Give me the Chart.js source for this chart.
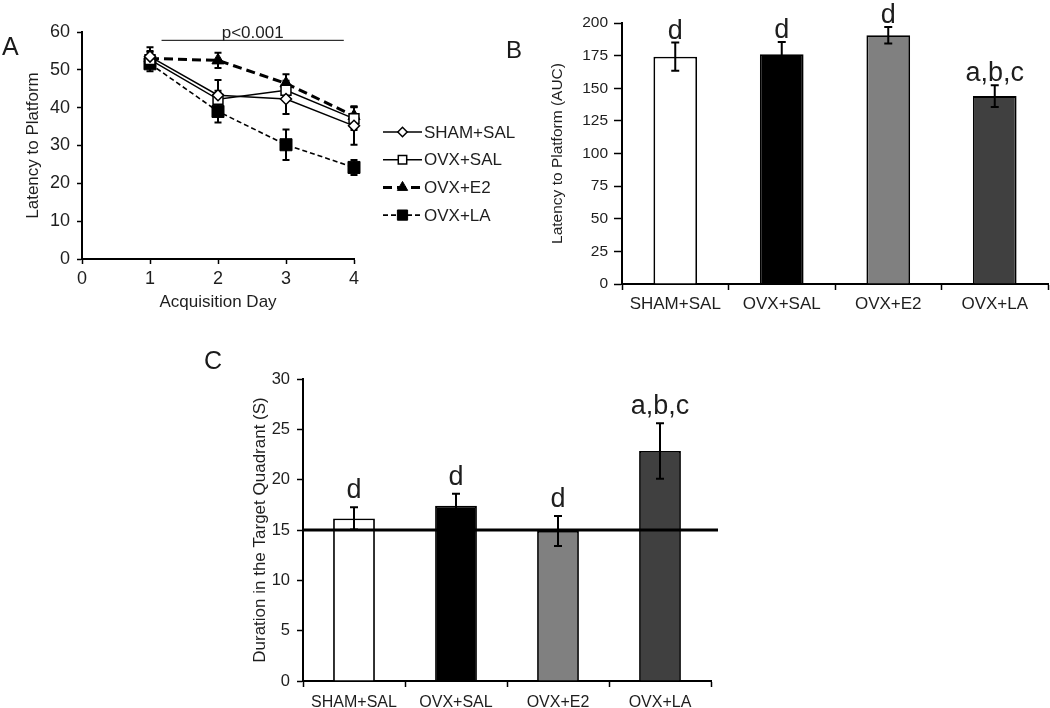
<!DOCTYPE html>
<html>
<head>
<meta charset="utf-8">
<script src="https://cdn.jsdelivr.net/npm/chart.js@4.4.0/dist/chart.umd.min.js"></script>
<style>
html,body{margin:0;padding:0;background:#fff;}
#wrap{position:relative;width:1050px;height:708px;overflow:hidden;font-family:"Liberation Sans",Arial,sans-serif;color:#1a1a1a;}
canvas{position:absolute;}
.lbl{position:absolute;font-size:25px;line-height:1;white-space:nowrap;}
</style>
</head>
<body>
<div id="wrap">
  <canvas id="cA" width="520" height="315" style="left:0px;top:0px"></canvas>
  <canvas id="cB" width="550" height="320" style="left:500px;top:0px"></canvas>
  <canvas id="cC" width="500" height="393" style="left:230px;top:315px"></canvas>
  <div class="lbl" style="left:2px;top:34px">A</div>
  <div class="lbl" style="left:506px;top:38px;font-size:24px">B</div>
  <div class="lbl" style="left:204px;top:348px">C</div>
</div>
<script>
// ---------------- DATA ----------------
const days = [1, 2, 3, 4];
const groups = ['SHAM+SAL', 'OVX+SAL', 'OVX+E2', 'OVX+LA'];

const shamSalLatency    = [53.5, 43.3, 42.3, 35.2];
const shamSalLatencyErr = [2.5, 4.0, 4.0, 5.0];
const ovxSalLatency     = [52.7, 42.2, 44.6, 37.1];
const ovxSalLatencyErr  = [2.0, 2.3, 2.5, 3.0];
const ovxE2Latency      = [53.0, 52.5, 46.4, 37.8];
const ovxE2LatencyErr   = [2.0, 2.0, 2.4, 2.6];
const ovxLaLatency      = [51.6, 39.0, 30.2, 24.2];
const ovxLaLatencyErr   = [2.0, 2.9, 4.0, 2.0];

const aucValues  = [174.2, 176.0, 190.6, 144.0];
const aucErr     = [10.8, 9.5, 6.4, 8.3];
const aucLetters = ['d', 'd', 'd', 'a,b,c'];

const durationValues  = [16.15, 17.4, 14.9, 22.85];
const durationErr     = [1.1, 1.2, 1.5, 2.75];
const durationLetters = ['d', 'd', 'd', 'a,b,c'];
const chanceLevel = 15;

const sigText = 'p<0.001';
const sigFromDay = 1.17, sigToDay = 3.85, sigLevel = 57.8;

// ---------------- HELPERS ----------------
const FONT = '"Liberation Sans", Arial, sans-serif';
const TXT = '#1e1e1e';
Chart.defaults.font.family = FONT;
Chart.defaults.color = TXT;

function drawMarker(ctx, style, x, y, r, fill, lw) {
  if (Chart.helpers && Chart.helpers.drawPoint) {
    ctx.save();
    ctx.fillStyle = fill; ctx.strokeStyle = '#000'; ctx.lineWidth = lw; ctx.setLineDash([]);
    Chart.helpers.drawPoint(ctx, {pointStyle: style, radius: r, rotation: 0, borderWidth: lw}, x, y);
    ctx.restore();
  }
}

const errorBars = {
  id: 'errorBars',
  draw(chart, opts) {
    const ctx = chart.ctx, ys = chart.scales.y, cap = opts.cap || 4;
    chart.data.datasets.forEach((ds, i) => {
      if (!ds.errors) return;
      const meta = chart.getDatasetMeta(i);
      meta.data.forEach((el, j) => {
        const raw = ds.data[j];
        const v = (typeof raw === 'object') ? raw.y : raw;
        const e = ds.errors[j];
        const x = el.x;
        const yt = ys.getPixelForValue(v + e), yb = ys.getPixelForValue(v - e);
        ctx.save();
        ctx.strokeStyle = '#000'; ctx.lineWidth = opts.lineWidth || 2; ctx.setLineDash([]);
        ctx.beginPath();
        ctx.moveTo(x, yt); ctx.lineTo(x, yb);
        ctx.moveTo(x - cap, yt); ctx.lineTo(x + cap, yt);
        ctx.moveTo(x - cap, yb); ctx.lineTo(x + cap, yb);
        ctx.stroke();
        ctx.restore();
      });
    });
  },
  beforeDatasetsDraw(chart, args, opts) { if (opts.before) this.draw(chart, opts); },
  afterDatasetsDraw(chart, args, opts) { if (!opts.before) this.draw(chart, opts); }
};

const letterLabels = {
  id: 'letterLabels',
  afterDatasetsDraw(chart, args, opts) {
    if (!opts.labels) return;
    const ctx = chart.ctx, ys = chart.scales.y;
    const ds = chart.data.datasets[0], meta = chart.getDatasetMeta(0);
    ctx.save();
    ctx.font = opts.size + 'px ' + FONT;
    ctx.fillStyle = TXT; ctx.textAlign = 'center'; ctx.textBaseline = 'alphabetic';
    meta.data.forEach((el, j) => {
      const top = ys.getPixelForValue(ds.data[j] + ds.errors[j]);
      ctx.fillText(opts.labels[j], el.x, top - opts.gap);
    });
    ctx.restore();
  }
};

const refLine = {
  id: 'refLine',
  afterDatasetsDraw(chart, args, opts) {
    if (opts.value === undefined) return;
    const ctx = chart.ctx, ys = chart.scales.y, ca = chart.chartArea;
    const y = ys.getPixelForValue(opts.value);
    ctx.save();
    ctx.strokeStyle = '#000'; ctx.lineWidth = opts.width || 3;
    ctx.beginPath(); ctx.moveTo(ca.left, y); ctx.lineTo(ca.right + (opts.extend || 0), y); ctx.stroke();
    ctx.restore();
  }
};

const sigBar = {
  id: 'sigBar',
  afterDraw(chart, args, opts) {
    if (!opts.text) return;
    const ctx = chart.ctx, xs = chart.scales.x, ys = chart.scales.y;
    const x0 = xs.getPixelForValue(opts.from), x1 = xs.getPixelForValue(opts.to);
    const y = ys.getPixelForValue(opts.level);
    ctx.save();
    ctx.strokeStyle = '#000'; ctx.lineWidth = 1;
    ctx.beginPath(); ctx.moveTo(x0, y); ctx.lineTo(x1, y); ctx.stroke();
    ctx.font = opts.size + 'px ' + FONT; ctx.fillStyle = TXT;
    ctx.textAlign = 'center'; ctx.textBaseline = 'alphabetic';
    ctx.fillText(opts.text, (x0 + x1) / 2, y - 2);
    ctx.restore();
  }
};

const lineLegend = {
  id: 'lineLegend',
  afterDraw(chart, args, opts) {
    if (!opts.show) return;
    const ctx = chart.ctx;
    chart.data.datasets.forEach((ds, i) => {
      const y = opts.y + i * opts.dy;
      const x0 = opts.x, x1 = opts.x + opts.len, xm = (x0 + x1) / 2;
      ctx.save();
      ctx.strokeStyle = '#000'; ctx.lineWidth = ds.borderWidth;
      ctx.setLineDash(ds.borderDash || []);
      ctx.beginPath(); ctx.moveTo(x0, y); ctx.lineTo(x1, y); ctx.stroke();
      ctx.restore();
      drawMarker(ctx, ds.pointStyle, xm, y, ds.pointRadius * 0.85, ds.pointBackgroundColor, ds.pointBorderWidth);
      ctx.save();
      ctx.font = opts.size + 'px ' + FONT; ctx.fillStyle = TXT;
      ctx.textAlign = 'left'; ctx.textBaseline = 'middle';
      ctx.fillText(ds.label, x1 + 2, y + 1);
      ctx.restore();
    });
  }
};

Chart.register(errorBars, letterLabels, refLine, sigBar, lineLegend);

function axisBase(extra) {
  return Object.assign({
    grid: {display: true, drawOnChartArea: false, drawTicks: true, color: '#000', tickWidth: 1.5, tickLength: 6},
    border: {display: true, color: '#000', width: 2}
  }, extra);
}

const commonOpts = {
  responsive: false, animation: false, devicePixelRatio: 1,
  events: []
};

// ---------------- PANEL A ----------------
function series(vals) { return days.map((d, i) => ({x: d, y: vals[i]})); }

new Chart(document.getElementById('cA'), {
  type: 'line',
  data: {
    datasets: [
      {label: 'SHAM+SAL', data: series(shamSalLatency), errors: shamSalLatencyErr, clip: false,
       borderColor: '#000', borderWidth: 1.5, pointStyle: 'rectRot', pointRadius: 5.5,
       pointBackgroundColor: '#fff', pointBorderColor: '#000', pointBorderWidth: 1.5, tension: 0, fill: false},
      {label: 'OVX+SAL', data: series(ovxSalLatency), errors: ovxSalLatencyErr, clip: false,
       borderColor: '#000', borderWidth: 1.5, pointStyle: 'rect', pointRadius: 7,
       pointBackgroundColor: '#fff', pointBorderColor: '#000', pointBorderWidth: 1.5, tension: 0, fill: false},
      {label: 'OVX+E2', data: series(ovxE2Latency), errors: ovxE2LatencyErr, clip: false,
       borderColor: '#000', borderWidth: 3, borderDash: [9, 5], pointStyle: 'triangle', pointRadius: 7,
       pointBackgroundColor: '#000', pointBorderColor: '#000', pointBorderWidth: 1, tension: 0, fill: false},
      {label: 'OVX+LA', data: series(ovxLaLatency), errors: ovxLaLatencyErr, clip: false,
       borderColor: '#000', borderWidth: 1.6, borderDash: [5, 3], pointStyle: 'rect', pointRadius: 8.5,
       pointBackgroundColor: '#000', pointBorderColor: '#000', pointBorderWidth: 1, tension: 0, fill: false}
    ]
  },
  options: Object.assign({}, commonOpts, {
    layout: {padding: {left: 20, right: 166, top: 32, bottom: 0}},
    plugins: {
      legend: {display: false}, tooltip: {enabled: false},
      errorBars: {before: true, cap: 3.5, lineWidth: 2},
      sigBar: {text: sigText, from: sigFromDay, to: sigToDay, level: sigLevel, size: 17},
      lineLegend: {show: true, x: 383, y: 132, dy: 27.7, len: 39, size: 17}
    },
    scales: {
      x: axisBase({type: 'linear', min: 0, max: 4,
        grid: {display: true, drawOnChartArea: false, color: '#000', tickWidth: 1.5, tickLength: 5},
        ticks: {stepSize: 1, font: {size: 18}, padding: 4, color: TXT},
        title: {display: true, text: 'Acquisition Day', font: {size: 17}, color: TXT, padding: {top: 0, bottom: 2}},
        afterFit(s) { s.height = 56; }}),
      y: axisBase({type: 'linear', min: 0, max: 60,
        grid: {display: true, drawOnChartArea: false, color: '#000', tickWidth: 1.5, tickLength: 5},
        ticks: {stepSize: 10, font: {size: 18}, padding: 7, color: TXT},
        title: {display: true, text: 'Latency to Platform', font: {size: 17}, color: TXT, padding: {top: 3, bottom: 0}},
        afterFit(s) { s.width = 62; }})
    }
  })
});

// ---------------- PANEL B ----------------
new Chart(document.getElementById('cB'), {
  type: 'bar',
  data: {
    labels: groups,
    datasets: [{data: aucValues, errors: aucErr,
      backgroundColor: ['#ffffff', '#000000', '#808080', '#404040'],
      borderColor: '#000', borderWidth: 1.8, barPercentage: 0.41, categoryPercentage: 1}]
  },
  options: Object.assign({}, commonOpts, {
    layout: {padding: {left: 44, right: 2, top: 23, bottom: 0}},
    plugins: {
      legend: {display: false}, tooltip: {enabled: false},
      errorBars: {cap: 4, lineWidth: 2},
      letterLabels: {labels: aucLetters, size: 27, gap: 4}
    },
    scales: {
      x: axisBase({
        grid: {display: true, drawOnChartArea: false, offset: true, color: '#000', tickWidth: 1.5, tickLength: 6},
        ticks: {font: {size: 17}, padding: 4, color: TXT},
        afterFit(s) { s.height = 36; }}),
      y: axisBase({min: 0, max: 200,
        grid: {display: true, drawOnChartArea: false, color: '#000', tickWidth: 1.5, tickLength: 8},
        ticks: {stepSize: 25, font: {size: 15.5}, padding: 6, color: TXT},
        title: {display: true, text: 'Latency to Platform (AUC)', font: {size: 15.5}, color: TXT, padding: {top: 4, bottom: 0}},
        afterFit(s) { s.width = 78; }})
    }
  })
});

// ---------------- PANEL C ----------------
new Chart(document.getElementById('cC'), {
  type: 'bar',
  data: {
    labels: groups,
    datasets: [{data: durationValues, errors: durationErr,
      backgroundColor: ['#ffffff', '#000000', '#808080', '#404040'],
      borderColor: '#000', borderWidth: 1.8, barPercentage: 0.41, categoryPercentage: 1}]
  },
  options: Object.assign({}, commonOpts, {
    layout: {padding: {left: 17, right: 19, top: 64, bottom: 0}},
    plugins: {
      legend: {display: false}, tooltip: {enabled: false},
      refLine: {value: chanceLevel, width: 3, extend: 7},
      errorBars: {cap: 4, lineWidth: 2},
      letterLabels: {labels: durationLetters, size: 27, gap: 9}
    },
    scales: {
      x: axisBase({
        grid: {display: true, drawOnChartArea: false, offset: true, color: '#000', tickWidth: 1.5, tickLength: 6},
        ticks: {font: {size: 16}, padding: 6, color: TXT},
        afterFit(s) { s.height = 27; }}),
      y: axisBase({min: 0, max: 30,
        grid: {display: true, drawOnChartArea: false, color: '#000', tickWidth: 1.5, tickLength: 6},
        ticks: {stepSize: 5, font: {size: 16.5}, padding: 7, color: TXT},
        title: {display: true, text: 'Duration in the Target Quadrant (S)', font: {size: 17}, color: TXT, padding: {top: 3, bottom: 0}},
        afterFit(s) { s.width = 56; }})
    }
  })
});
</script>
</body>
</html>
